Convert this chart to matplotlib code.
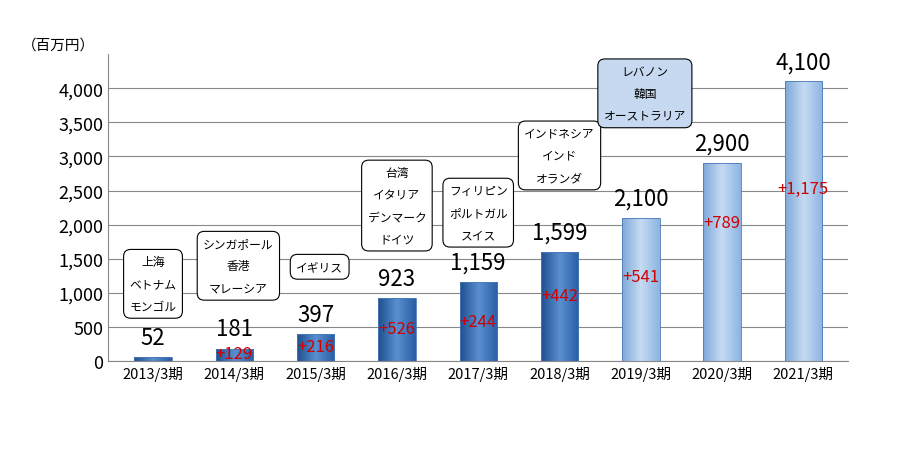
import matplotlib
matplotlib.use("Agg")
import matplotlib.pyplot as plt
import numpy as np
from matplotlib.patches import FancyBboxPatch

plt.rcParams["font.family"] = ["Noto Sans CJK JP"]

categories = ["2013/3期","2014/3期","2015/3期","2016/3期","2017/3期","2018/3期","2019/3期","2020/3期","2021/3期"]
values = [52,181,397,923,1159,1599,2100,2900,4100]
value_labels = ["52","181","397","923","1,159","1,599","2,100","2,900","4,100"]
increments = ["","+129","+216","+526","+244","+442","+541","+789","+1,175"]
inc_y = [0,103,206,470,574,956,1235,2030,2530]
forecast = [False]*6 + [True]*3
box_texts = ["上海\nベトナム\nモンゴル","シンガポール\n香港\nマレーシア","イギリス","台湾\nイタリア\nデンマーク\nドイツ",
             "フィリピン\nポルトガル\nスイス","インドネシア\nインド\nオランダ","レバノン\n韓国\nオーストラリア","",""]
box_y = [1132,1397,1382,2280,2176,3015,3926,0,0]

fig = plt.figure(figsize=(9.1,4.6), dpi=100)
ax = fig.add_axes([0.119,0.213,0.813,0.667])
x = np.arange(len(categories))
w = 0.46
ax.set_xlim(-0.55, len(categories)-0.45)
ax.set_ylim(0,4500)
ax.set_yticks(range(0,4001,500))
ax.set_yticklabels([f"{v:,}" for v in range(0,4001,500)], fontsize=13)
ax.yaxis.grid(True, color="#888888", lw=0.8)
ax.set_axisbelow(True)
ax.set_xticks(x)
ax.set_xticklabels(categories, fontsize=10.5)
for s in ["top","right"]:
    ax.spines[s].set_visible(False)
ax.spines["left"].set_color("#888888")
ax.spines["bottom"].set_color("#888888")
ax.tick_params(length=0)

grad = np.linspace(0,1,64).reshape(1,-1)
for i,v in enumerate(values):
    if forecast[i]:
        cmap = matplotlib.colors.LinearSegmentedColormap.from_list("l",["#7fa8d8","#c6dbf3","#8db4e2"])
    else:
        cmap = matplotlib.colors.LinearSegmentedColormap.from_list("d",["#1f4f8f","#5a8fd0","#2a5ea5"])
    bar = ax.bar(x[i], v, w, color="none", edgecolor="#4a7ab8", lw=0.6, zorder=3)[0]
    im = ax.imshow(grad, extent=[x[i]-w/2, x[i]+w/2, 0, v], aspect="auto", cmap=cmap, zorder=2)
    im.set_clip_path(bar)
    ax.annotate(value_labels[i], (x[i], v), xytext=(0,6), textcoords="offset points",
                ha="center", va="bottom", fontsize=16)
    if increments[i]:
        ax.text(x[i], inc_y[i], increments[i], color="#d00000", ha="center", va="center", fontsize=12, zorder=5)
    if box_texts[i]:
        fc = "#c6d9f1" if forecast[i] else "white"
        ax.text(x[i]+(0.05 if i in (1,2,6) else 0), box_y[i], box_texts[i], ha="center", va="center", fontsize=8.5,
                linespacing=1.9, zorder=6,
                bbox=dict(boxstyle="round,pad=0.5,rounding_size=0.6", fc=fc, ec="black", lw=0.8))

fig.text(0.024, 0.885, "（百万円）", fontsize=10.5, va="bottom")
fig.savefig("out.png", dpi=100)
